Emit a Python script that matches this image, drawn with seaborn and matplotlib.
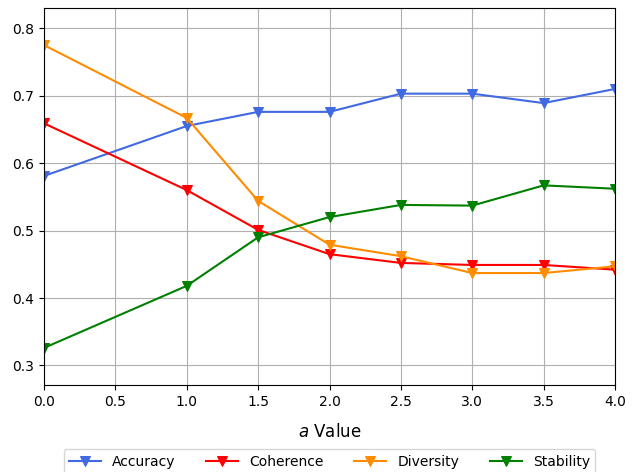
import matplotlib
matplotlib.use("Agg")
import matplotlib.pyplot as plt
import pandas as pd
import seaborn as sns

a_values = [0.0, 1.0, 1.5, 2.0, 2.5, 3.0, 3.5, 4.0]
accuracy = [0.581, 0.655, 0.676, 0.676, 0.703, 0.703, 0.689, 0.710]
coherence = [0.659, 0.560, 0.501, 0.465, 0.452, 0.449, 0.449, 0.442]
diversity = [0.775, 0.667, 0.544, 0.479, 0.462, 0.437, 0.437, 0.447]
stability = [0.326, 0.418, 0.490, 0.520, 0.538, 0.537, 0.567, 0.562]

series = {
    "Accuracy": accuracy,
    "Coherence": coherence,
    "Diversity": diversity,
    "Stability": stability,
}
colors = {
    "Accuracy": "royalblue",
    "Coherence": "red",
    "Diversity": "darkorange",
    "Stability": "green",
}

df = pd.DataFrame(
    [(a, name, v) for name, vals in series.items() for a, v in zip(a_values, vals)],
    columns=["a", "Metric", "Score"],
)

fig = plt.figure(figsize=(6.35, 4.72), dpi=100)
ax = fig.add_axes([44 / 635, 1 - 385 / 472, 571 / 635, 377 / 472])

sns.lineplot(
    data=df, x="a", y="Score", hue="Metric", style="Metric",
    palette=colors, markers={k: "v" for k in series}, dashes=False,
    markeredgecolor=None, linewidth=1.5, markersize=6.5, ax=ax,
)

ax.set_xlim(0, 4)
ax.set_ylim(0.271, 0.830)
ax.set_xticks([0.0, 0.5, 1.0, 1.5, 2.0, 2.5, 3.0, 3.5, 4.0])
ax.set_yticks([0.3, 0.4, 0.5, 0.6, 0.7, 0.8])
ax.grid(True, color="#b0b0b0", linewidth=0.8)
ax.set_axisbelow(True)
ax.set_xlabel("$a$ Value", fontsize=12, labelpad=10)
ax.set_ylabel("")

handles, labels = ax.get_legend_handles_labels()
ax.legend(handles, labels, ncol=4, loc="upper center",
          bbox_to_anchor=(0.5, -0.17), borderaxespad=0, fontsize=10,
          handlelength=2.3, columnspacing=2.2)

fig.savefig("out.png", dpi=100)
